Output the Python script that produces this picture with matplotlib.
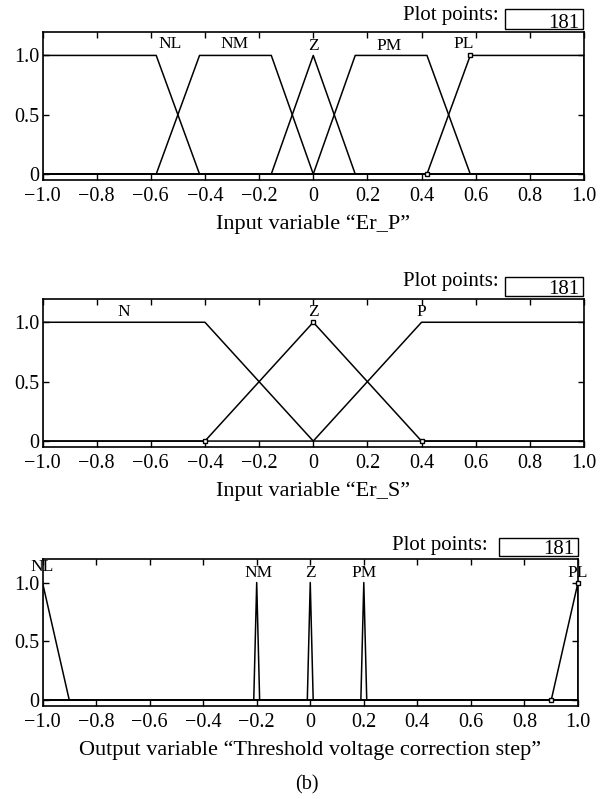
import numpy as np
import matplotlib.pyplot as plt
from matplotlib.patches import Rectangle

plt.rcParams['font.family'] = ['Liberation Serif', 'DejaVu Serif']

W, H = 611, 799  # figure size in pixels at dpi 100

# Membership functions as trapezoids [a, b, c, d]; triangles have b == c
er_p_names = ['NL', 'NM', 'Z', 'PM', 'PL']
er_p_params = [[-1.0, -1.0, -0.58, -0.42],
               [-0.58, -0.42, -0.155, 0.0],
               [-0.155, 0.0, 0.0, 0.155],
               [0.0, 0.155, 0.42, 0.58],
               [0.42, 0.58, 1.0, 1.0]]
er_p_label_x = [-0.53, -0.29, 0.0, 0.28, 0.555]
er_p_label_y = [1.03, 1.03, 1.01, 1.01, 1.03]

er_s_names = ['N', 'Z', 'P']
er_s_params = [[-1.0, -1.0, -0.4, 0.0],
               [-0.4, 0.0, 0.0, 0.4],
               [0.0, 0.4, 1.0, 1.0]]
er_s_label_x = [-0.7, 0.0, 0.4]
er_s_label_y = [1.02, 1.02, 1.02]

step_names = ['NL', 'NM', 'Z', 'PM', 'PL']
step_params = [[-1.0, -1.0, -1.0, -0.9],
               [-0.211, -0.2, -0.2, -0.189],
               [-0.011, 0.0, 0.0, 0.011],
               [0.189, 0.2, 0.2, 0.211],
               [0.9, 1.0, 1.0, 1.0]]
step_label_x = [-1.0, -0.195, 0.0, 0.2, 1.0]
step_label_y = [1.06, 1.01, 1.01, 1.01, 1.01]

x_ticks = [-1.0, -0.8, -0.6, -0.4, -0.2, 0.0, 0.2, 0.4, 0.6, 0.8, 1.0]
x_tick_labels = ['\u22121.0', '\u22120.8', '\u22120.6', '\u22120.4', '\u22120.2',
                 '0', '0.2', '0.4', '0.6', '0.8', '1.0']
y_ticks = [0.0, 0.5, 1.0]
y_tick_labels = ['0', '0.5', '1.0']
plot_points = 181


def trap_vertices(p):
    a, b, c, d = p
    return [-1.0, a, b, c, d, 1.0], [0, 0, 1, 1, 0, 0]


def draw_panel(ax, names, params, label_x, label_y, selected, marks, xlabel):
    for name, p, lx, ly in zip(names, params, label_x, label_y):
        xs, ys = trap_vertices(p)
        ax.plot(xs, ys, color='k', lw=1.1)
        ax.text(lx, ly, name, ha='center', va='bottom', fontsize=12.5, clip_on=False)
        if name == selected:
            mx = [xs[i + 1] for i in marks]
            my = [ys[i + 1] for i in marks]
            ax.plot(mx, my, 's', ms=3.5, mfc='white', mec='k', mew=1.0,
                    clip_on=False, zorder=5)
    ax.set_xlim(-1, 1)
    ax.set_ylim(-0.05, 1.2)
    ax.set_xticks(x_ticks)
    ax.set_xticklabels(x_tick_labels)
    ax.set_yticks(y_ticks)
    ax.set_yticklabels(y_tick_labels)
    ax.tick_params(direction='in', top=True, right=True, length=4.5, width=1.0,
                   labelsize=14.5)
    ax.tick_params(axis='x', pad=5)
    ax.tick_params(axis='y', pad=2)
    for s in ax.spines.values():
        s.set_linewidth(1.2)
    ax.set_xlabel(xlabel, fontsize=16, labelpad=6)


def plot_points_box(fig, text_right, text_base, box, num_base):
    x0, y0, x1, y1 = box
    fig.add_artist(Rectangle((x0 / W, 1 - y1 / H), (x1 - x0) / W, (y1 - y0) / H,
                             transform=fig.transFigure, facecolor='white',
                             edgecolor='k', lw=1.0))
    fig.text(text_right / W, 1 - text_base / H, 'Plot points:', ha='right',
             va='baseline', fontsize=15)
    fig.text((x1 - 4) / W, 1 - num_base / H, str(plot_points), ha='right',
             va='baseline', fontsize=15)


fig = plt.figure(figsize=(W / 100, H / 100), dpi=100)

ax1 = fig.add_axes([42.5 / W, 1 - 180 / H, 541.5 / W, 148.3 / H])
draw_panel(ax1, er_p_names, er_p_params, er_p_label_x, er_p_label_y,
           'PL', [0, 1], 'Input variable \u201cEr_P\u201d')

ax2 = fig.add_axes([42.5 / W, 1 - 447 / H, 541.5 / W, 148.5 / H])
draw_panel(ax2, er_s_names, er_s_params, er_s_label_x, er_s_label_y,
           'Z', [0, 1, 3], 'Input variable \u201cEr_S\u201d')

ax3 = fig.add_axes([42.5 / W, 1 - 706 / H, 535.5 / W, 147 / H])
draw_panel(ax3, step_names, step_params, step_label_x, step_label_y,
           'PL', [0, 1], 'Output variable \u201cThreshold voltage correction step\u201d')

plot_points_box(fig, 499, 20, (505, 9, 583, 29), 28)
plot_points_box(fig, 499, 286, (505, 277, 583, 296), 294)
plot_points_box(fig, 488, 550, (499, 538, 578, 556), 554)

fig.text(0.503, 1 - 785 / H, '(b)', ha='center', va='center', fontsize=14.5)

fig.savefig('out.png', dpi=100)
